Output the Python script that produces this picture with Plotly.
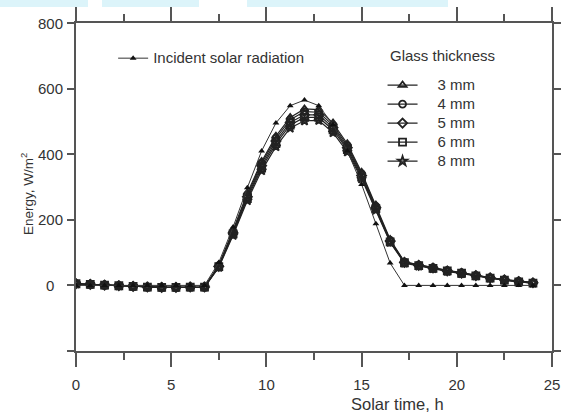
import plotly.graph_objects as go

# Sampling of the day (0.75 h step)
solar_time = [0.0, 0.75, 1.5, 2.25, 3.0, 3.75, 4.5, 5.25, 6.0, 6.75,
              7.5, 8.25, 9.0, 9.75, 10.5, 11.25, 12.0, 12.75, 13.5, 14.25,
              15.0, 15.75, 16.5, 17.25, 18.0, 18.75, 19.5, 20.25, 21.0,
              21.75, 22.5, 23.25, 24.0]

incident = [0, 0, 0, 0, 0, 0, 0, 0, 0, 0,
            70, 178, 298, 410, 495, 548, 565, 548, 490, 410,
            308, 188, 68, 0, 0, 0, 0, 0, 0,
            0, 0, 0, 0]

glass_3mm = [5, 3, 1, -1, -3, -5, -6, -6, -5, -5,
             62, 168, 282, 378, 455, 512, 538, 536, 495, 432,
             345, 245, 140, 72, 63, 55, 46, 39, 31,
             24, 18, 13, 9]
glass_4mm = [5, 3, 1, -1, -3, -5, -6, -6, -5, -5,
             60, 164, 276, 372, 448, 505, 530, 528, 488, 426,
             340, 241, 137, 71, 62, 54, 45, 38, 30,
             23, 17, 12, 8]
glass_5mm = [5, 3, 1, -1, -3, -5, -6, -6, -5, -5,
             58, 160, 270, 365, 440, 497, 520, 520, 481, 420,
             335, 237, 135, 70, 61, 53, 44, 37, 30,
             23, 17, 12, 8]
glass_6mm = [5, 3, 1, -1, -3, -5, -6, -6, -5, -5,
             57, 157, 265, 358, 432, 489, 512, 512, 474, 414,
             330, 234, 133, 69, 60, 52, 44, 37, 29,
             22, 16, 11, 7]
glass_8mm = [5, 3, 1, -1, -3, -5, -6, -6, -5, -5,
             55, 153, 259, 350, 423, 480, 502, 503, 466, 407,
             325, 230, 131, 68, 59, 51, 43, 36, 29,
             22, 16, 11, 7]

glass_names = ["3 mm", "4 mm", "5 mm", "6 mm", "8 mm"]
glass_series = [glass_3mm, glass_4mm, glass_5mm, glass_6mm, glass_8mm]
glass_symbols = ["triangle-up-open", "circle-open", "diamond-open",
                 "square-open", "star-open"]

x_ticks = [0, 5, 10, 15, 20, 25]
x_minor_ticks = [2.5, 7.5, 12.5, 17.5, 22.5]
y_ticks = [-200, 0, 200, 400, 600, 800]
y_labels = [0, 200, 400, 600, 800]

INK = "#222222"
TXT = "#333333"
FONT = "Liberation Sans, Arial, sans-serif"


def sized(text, px):
    return f'<span style="font-size:{px}px">{text}</span>'


fig = go.Figure()

for name, vals, sym in zip(glass_names, glass_series, glass_symbols):
    fig.add_trace(go.Scatter(
        x=solar_time, y=vals, name=sized("\u2002\u2002" + name, 15),
        mode="lines+markers", legend="legend2",
        line=dict(color=INK, width=1.2),
        marker=dict(symbol=sym, size=7, color=INK,
                    line=dict(color=INK, width=1.8)),
    ))

fig.add_trace(go.Scatter(
    x=solar_time, y=incident, name=sized("Incident solar radiation", 15),
    mode="lines+markers", legend="legend",
    line=dict(color="#333333", width=1.0),
    marker=dict(symbol="triangle-up", size=6, color="#111111"),
))

axis_common = dict(
    showline=True, linecolor="#555555", linewidth=1.5, mirror="ticks",
    ticks="outside", tickcolor="#555555", tickwidth=1.5,
    showgrid=False, zeroline=False,
    tickfont=dict(family=FONT, size=15, color=TXT),
)

fig.update_layout(
    width=562, height=415,
    margin=dict(l=76, r=10, t=23, b=64, autoexpand=False),
    paper_bgcolor="white", plot_bgcolor="white",
    font=dict(family=FONT, size=15, color=TXT),
    xaxis=dict(range=[0, 25], tickvals=x_ticks, ticklen=14,
               ticklabelstandoff=5,
               minor=dict(tickvals=x_minor_ticks, ticklen=7,
                          ticks="outside", tickcolor="#555555", tickwidth=1.5),
               **axis_common),
    yaxis=dict(range=[-200, 800], tickvals=y_ticks, ticklen=7,
               showticklabels=False, **axis_common),
    legend=dict(x=0.078, y=0.937, xanchor="left", yanchor="top",
                bgcolor="rgba(0,0,0,0)", font=dict(size=12, color=TXT),
                tracegroupgap=0),
    legend2=dict(x=0.644, y=0.855, xanchor="left", yanchor="top",
                 bgcolor="rgba(0,0,0,0)", font=dict(size=12, color=TXT),
                 tracegroupgap=0),
    showlegend=True,
)

# heading over the glass-thickness legend
fig.add_annotation(
    text="Glass thickness", xref="paper", yref="paper",
    x=(388 - 76) / 476, y=1 - (56 - 23) / 328, showarrow=False,
    xanchor="left", yanchor="middle",
    font=dict(family=FONT, size=15, color=TXT),
)

# y tick labels, centred in the gutter
for v in y_labels:
    fig.add_annotation(
        text=str(v), xref="paper", yref="y", x=-(76 - 50) / 476, y=v,
        showarrow=False, xanchor="center", yanchor="middle",
        font=dict(family=FONT, size=15, color=TXT),
    )

fig.add_annotation(
    text="Solar time, h", xref="paper", yref="paper",
    x=(397 - 76) / 476, y=-(404 - 351) / 328, showarrow=False,
    xanchor="center", yanchor="middle",
    font=dict(family=FONT, size=16.5, color=TXT),
)
fig.add_annotation(
    text="Energy, W/m<sup>2</sup>", xref="paper", yref="paper",
    x=-(76 - 27) / 476, y=1 - (194 - 23) / 328, textangle=-90,
    showarrow=False, xanchor="center", yanchor="middle",
    font=dict(family=FONT, size=13.5, color=TXT),
)

# light banner strips along the very top of the page
for x0, x1 in [(0, 88), (102, 199), (247, 448)]:
    fig.add_shape(type="rect", xref="paper", yref="paper",
                  x0=(x0 - 76) / 476, x1=(x1 - 76) / 476,
                  y0=1 + (23 - 7) / 328, y1=1 + 23 / 328,
                  fillcolor="#dcf4fa", line=dict(width=0), layer="below")

fig.write_html("out.html")
